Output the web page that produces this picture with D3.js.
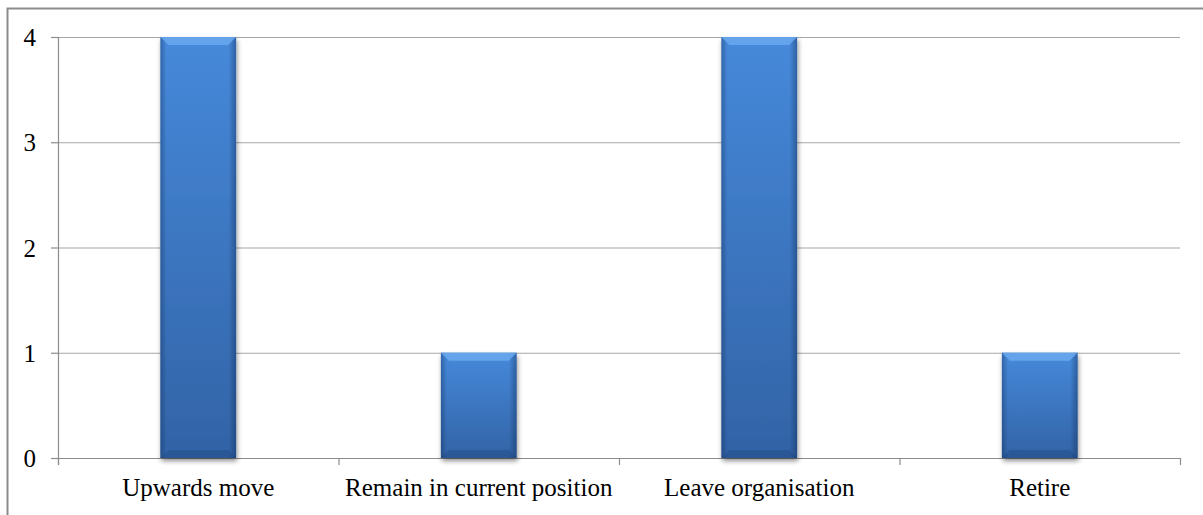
<!DOCTYPE html>
<html>
<head>
<meta charset="utf-8">
<script src="https://cdn.jsdelivr.net/npm/d3@7/dist/d3.min.js"></script>
<style>
  html, body { margin: 0; padding: 0; background: #ffffff; }
  svg { display: block; }
  .lbl { font-family: "Liberation Serif", "DejaVu Serif", serif; }
</style>
</head>
<body>
<svg id="chart" width="1203" height="515"></svg>
<script>
// Career intentions: counts per category
const categories = ["Upwards move", "Remain in current position", "Leave organisation", "Retire"];
const counts = [4, 1, 4, 1];
const yTicks = [0, 1, 2, 3, 4];

const W = 1203, H = 515;
const margin = { left: 58, right: 23, top: 37, bottom: 57 };
const plotW = W - margin.left - margin.right;
const plotH = H - margin.top - margin.bottom;

const svg = d3.select("#chart");
const defs = svg.append("defs");

// Bar body gradient
const grad = defs.append("linearGradient").attr("id", "barFill")
  .attr("x1", 0).attr("y1", 0).attr("x2", 0).attr("y2", 1);
grad.append("stop").attr("offset", "0%").attr("stop-color", "#4689da");
grad.append("stop").attr("offset", "100%").attr("stop-color", "#3263a6");

// Side shading gradient (darker edges, lighter centre)
const side = defs.append("linearGradient").attr("id", "barSide")
  .attr("x1", 0).attr("y1", 0).attr("x2", 1).attr("y2", 0);
side.append("stop").attr("offset", "0%").attr("stop-color", "#0b2550").attr("stop-opacity", 0.35);
side.append("stop").attr("offset", "8%").attr("stop-color", "#0b2550").attr("stop-opacity", 0.0);
side.append("stop").attr("offset", "90%").attr("stop-color", "#0b2550").attr("stop-opacity", 0.0);
side.append("stop").attr("offset", "100%").attr("stop-color", "#0b2550").attr("stop-opacity", 0.4);

// Soft drop shadow
const shadow = defs.append("filter").attr("id", "shadow")
  .attr("x", "-20%").attr("y", "-10%").attr("width", "150%").attr("height", "130%");
shadow.append("feGaussianBlur").attr("in", "SourceAlpha").attr("stdDeviation", 2.5);
shadow.append("feOffset").attr("dx", 1).attr("dy", 3).attr("result", "off");
shadow.append("feComponentTransfer").append("feFuncA").attr("type", "linear").attr("slope", 0.45);
const merge = shadow.append("feMerge");
merge.append("feMergeNode");
merge.append("feMergeNode").attr("in", "SourceGraphic");

// Outer frame (top and left edges)
svg.append("path")
  .attr("d", `M7.5,${H} L7.5,8.5 L${W},8.5`)
  .attr("fill", "none").attr("stroke", "#8c8c8c").attr("stroke-width", 2);

const g = svg.append("g").attr("transform", `translate(${margin.left},${margin.top})`);

const x = d3.scaleBand().domain(categories).range([0, plotW]).padding(0);
const y = d3.scaleLinear().domain([0, 4]).range([plotH, 0]);

// Horizontal gridlines
g.append("g").selectAll("line").data(yTicks.filter(d => d > 0)).join("line")
  .attr("x1", 0).attr("x2", plotW)
  .attr("y1", d => y(d) + 0.5).attr("y2", d => y(d) + 0.5)
  .attr("stroke", "#a6a6a6").attr("stroke-width", 1.2);

// Y axis
const yAxis = g.append("g").attr("class", "y-axis")
  .call(d3.axisLeft(y).tickValues(yTicks).tickFormat(d3.format("d")).tickSize(7).tickPadding(15));
yAxis.attr("font-family", "Liberation Serif").attr("font-size", 25);
yAxis.select(".domain").attr("stroke", "#8c8c8c").attr("stroke-width", 1.2)
  .attr("d", `M-7,0.5 H0.5 V${plotH + 7}`);
yAxis.selectAll(".tick line").attr("stroke", "#8c8c8c").attr("stroke-width", 1.2);
yAxis.selectAll(".tick text").attr("class", "lbl").attr("fill", "#000").attr("dy", "0.34em");

// X axis: ticks at category boundaries
const bounds = d3.range(categories.length + 1).map(i => i * x.step());
g.append("line").attr("x1", 0).attr("x2", plotW)
  .attr("y1", plotH + 0.5).attr("y2", plotH + 0.5)
  .attr("stroke", "#8c8c8c").attr("stroke-width", 1.2);
g.append("g").selectAll("line").data(bounds).join("line")
  .attr("x1", d => d + 0.5).attr("x2", d => d + 0.5)
  .attr("y1", plotH).attr("y2", plotH + 7)
  .attr("stroke", "#8c8c8c").attr("stroke-width", 1.2);

g.append("g").attr("font-family", "Liberation Serif").attr("font-size", 25)
  .selectAll("text").data(categories).join("text")
  .attr("class", "lbl")
  .attr("x", d => x(d) + x.bandwidth() / 2)
  .attr("y", plotH + 38)
  .attr("text-anchor", "middle")
  .attr("fill", "#000")
  .text(d => d);

// Bars
const barW = x.bandwidth() * 0.27;
const bevel = 8;
const bars = g.append("g").selectAll("g.bar")
  .data(categories.map((c, i) => ({ c, v: counts[i] })))
  .join("g").attr("class", "bar")
  .attr("transform", d => `translate(${x(d.c) + (x.bandwidth() - barW) / 2},${y(d.v)})`);

bars.append("rect")
  .attr("width", barW).attr("height", d => plotH - y(d.v))
  .attr("fill", "url(#barFill)").attr("filter", "url(#shadow)");
bars.append("rect")
  .attr("width", barW).attr("height", d => plotH - y(d.v))
  .attr("fill", "url(#barSide)");
// Top bevel highlight
bars.append("path")
  .attr("d", `M0,0 H${barW} L${barW - bevel},${bevel} H${bevel} Z`)
  .attr("fill", "#6aa9ef").attr("opacity", 0.85);
// Bottom bevel shade
bars.append("path")
  .attr("d", d => { const h = plotH - y(d.v); return `M0,${h} H${barW} L${barW - bevel},${h - bevel} H${bevel} Z`; })
  .attr("fill", "#1d4279").attr("opacity", 0.35);
</script>
</body>
</html>
